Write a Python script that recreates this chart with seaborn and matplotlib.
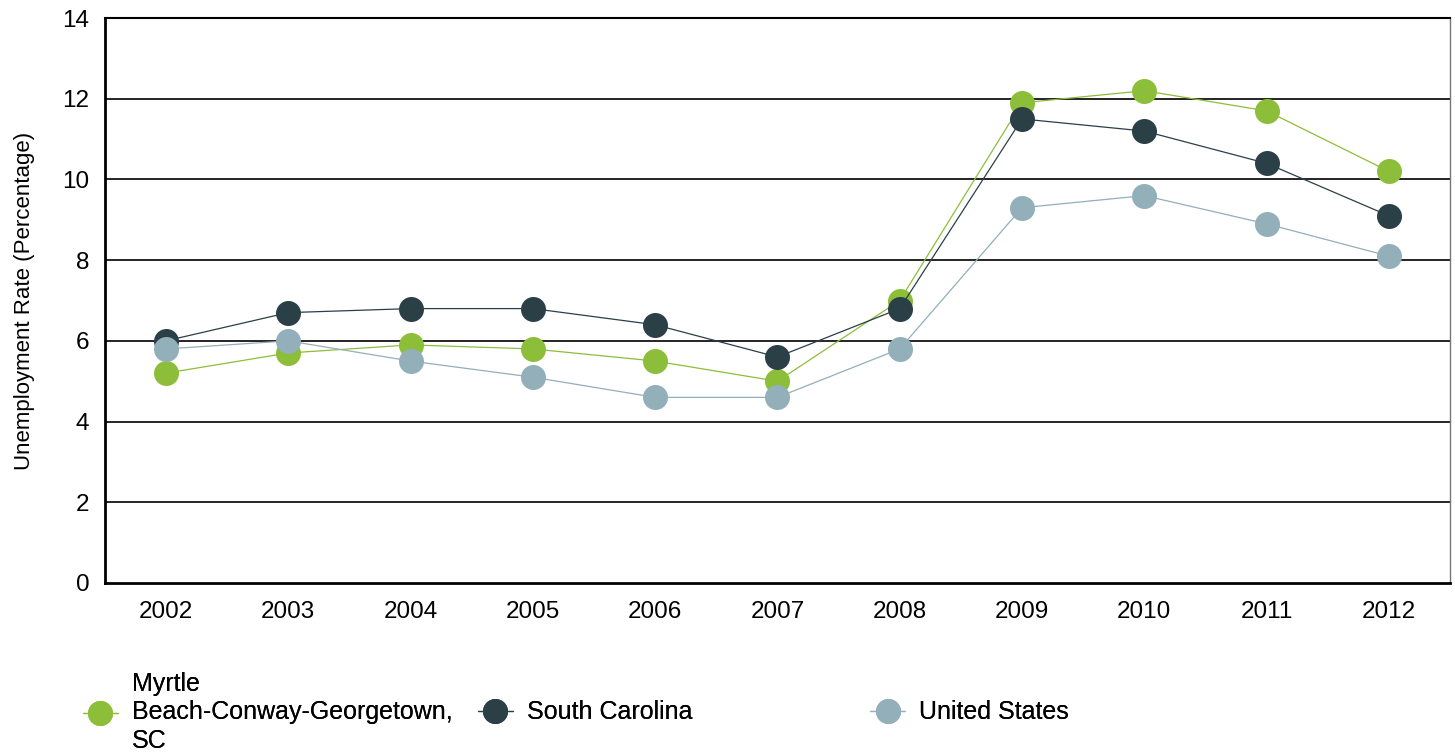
import matplotlib
matplotlib.use("Agg")
import matplotlib.pyplot as plt
import seaborn as sns
import pandas as pd
from matplotlib.lines import Line2D

years = [2002, 2003, 2004, 2005, 2006, 2007, 2008, 2009, 2010, 2011, 2012]
myrtle = [5.2, 5.7, 5.9, 5.8, 5.5, 5.0, 7.0, 11.9, 12.2, 11.7, 10.2]
south_carolina = [6.0, 6.7, 6.8, 6.8, 6.4, 5.6, 6.8, 11.5, 11.2, 10.4, 9.1]
united_states = [5.8, 6.0, 5.5, 5.1, 4.6, 4.6, 5.8, 9.3, 9.6, 8.9, 8.1]
series_names = ["Myrtle\nBeach-Conway-Georgetown,\nSC", "South Carolina", "United States"]
colors = ["#8DBE3A", "#2B3F47", "#92AFBA"]
yticks = [0, 2, 4, 6, 8, 10, 12, 14]

sns.set_theme(style="white")
plt.rcParams['font.family'] = ['Liberation Sans', 'DejaVu Sans']
plt.rcParams['text.color'] = 'black'
plt.rcParams['xtick.color'] = 'black'
plt.rcParams['ytick.color'] = 'black'
plt.rcParams['axes.labelcolor'] = 'black'

rows = []
for name, vals in zip(series_names, [myrtle, south_carolina, united_states]):
    for y, v in zip(years, vals):
        rows.append({"Year": y, "Rate": v, "Series": name})
df = pd.DataFrame(rows)

fig = plt.figure(figsize=(14.55, 7.53), dpi=100)
ax = fig.add_axes([0.072, 0.2258, 0.9246, 0.7502])

for yv in yticks[1:]:
    ax.axhline(yv, color="black", lw=1.2, zorder=0)

sns.lineplot(data=df, x="Year", y="Rate", hue="Series", hue_order=series_names,
             palette=colors, marker="o", markersize=18, markeredgewidth=0,
             linewidth=0.9, ax=ax, legend=False, zorder=3)

ax.set_xlim(2001.5, 2012.5)
ax.set_ylim(0, 14)
ax.set_xticks(years)
ax.set_xticklabels([str(y) for y in years], fontsize=17.5)
ax.set_yticks(yticks)
ax.set_yticklabels([str(v) for v in yticks], fontsize=17.5)
ax.tick_params(axis="x", pad=13, length=0)
ax.tick_params(axis="y", pad=11, length=0)
ax.set_xlabel("")
ax.set_ylabel("Unemployment Rate (Percentage)", fontsize=16, labelpad=20)

for side in ["left", "bottom"]:
    ax.spines[side].set_color("black")
    ax.spines[side].set_linewidth(2)
ax.spines["top"].set_color("black")
ax.spines["top"].set_linewidth(1.5)
ax.spines["right"].set_color("#777777")
ax.spines["right"].set_linewidth(1)

xpos = [0.057, 0.3285, 0.598]
for name, c, xp in zip(series_names, colors, xpos):
    h = Line2D([0], [0], color=c, marker="o", markersize=18, markeredgewidth=0, lw=0.9)
    leg = fig.legend([h], [name], loc="center left", bbox_to_anchor=(xp, 0.054),
                     frameon=False, fontsize=18, handlelength=1.4, handletextpad=0.55,
                     borderaxespad=0, borderpad=0)
    for t in leg.get_texts():
        t.set_linespacing(1.25)
    fig.add_artist(leg)

fig.savefig("out.png", dpi=100)
